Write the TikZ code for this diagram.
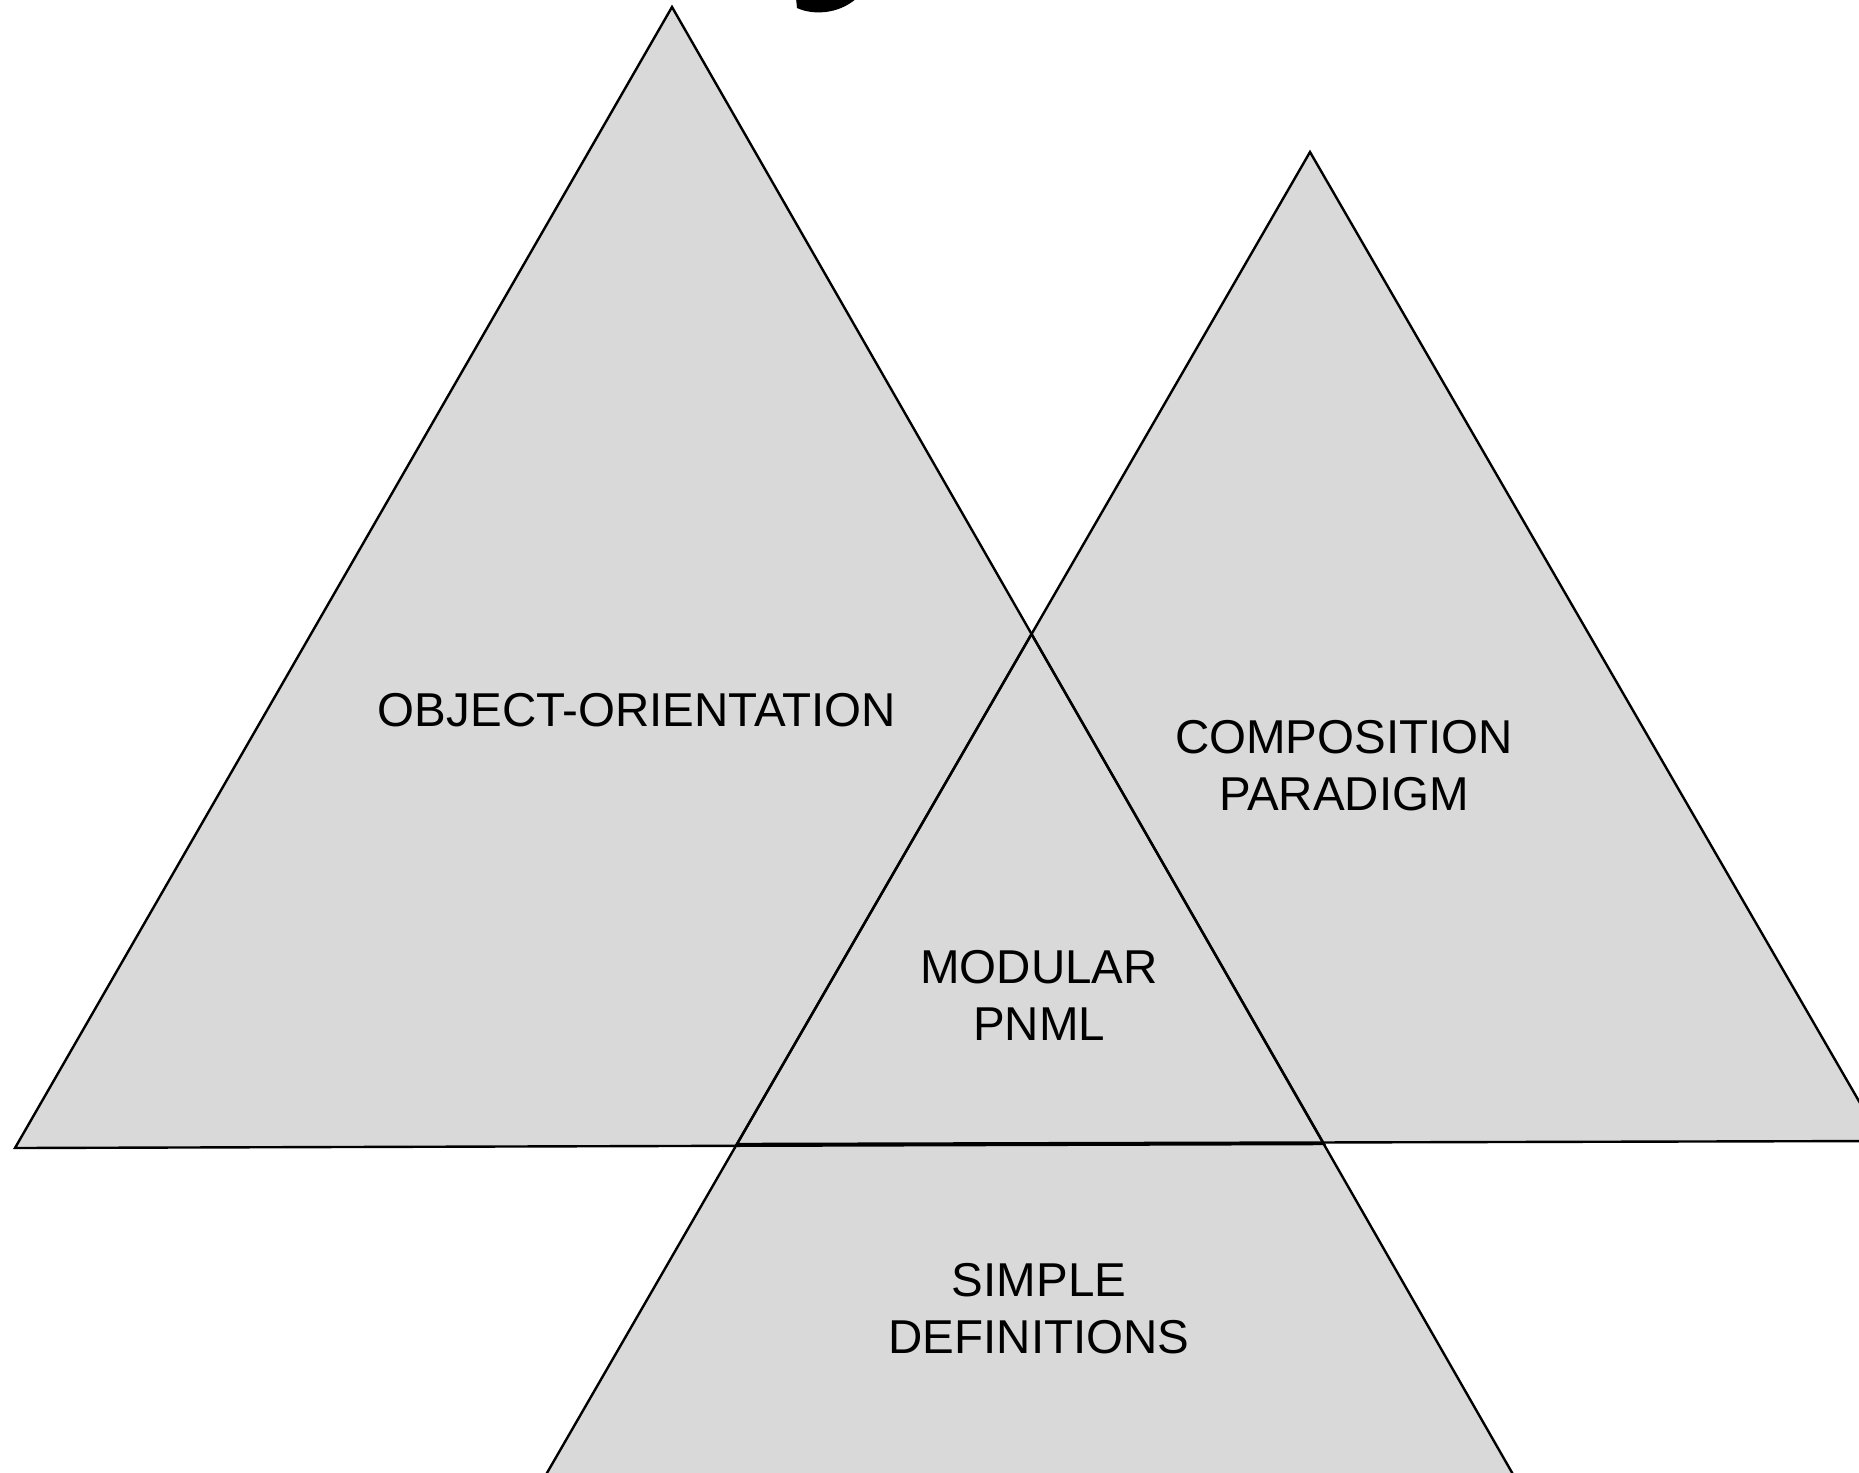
\documentclass[tikz,border=0pt]{standalone}
\usepackage{fontspec}
\setmainfont{Liberation Sans}
\definecolor{trigray}{HTML}{D9D9D9}
\tikzset{
  trifill/.style={fill=trigray},
  triline/.style={draw=black, line width=2.4pt, line join=miter},
  label/.style={font=\fontsize{47.5}{57}\selectfont, align=center, inner sep=0pt, text=black},
}
\begin{document}
\begin{tikzpicture}[x=1pt, y=-1pt]
\useasboundingbox (0,0) rectangle (1859,1472);
\clip (0,0) rectangle (1859,1472);
\fill[white] (0,0) rectangle (1859,1472);
% vertices
\coordinate (LA) at (672,7);
\coordinate (LL) at (15,1148);
\coordinate (LR) at (1324,1144);
\coordinate (RA) at (1310,152);
\coordinate (RL) at (737,1144);
\coordinate (RR) at (1882,1141);
\coordinate (BA) at (1031.5,634);
\coordinate (BL) at (473.6,1600);
\coordinate (BR) at (1585,1600);
% fills
\fill[trifill] (LA) -- (LL) -- (LR) -- cycle;
\fill[trifill] (RA) -- (RL) -- (RR) -- cycle;
\fill[trifill] (BA) -- (BL) -- (BR) -- cycle;
% outlines
\draw[triline] (LA) -- (LL) -- (LR) -- cycle;
\draw[triline] (RA) -- (RL) -- (RR) -- cycle;
\draw[triline] (BA) -- (BL) -- (BR) -- cycle;
% fragment of title glyph at top
\fill[black] (796,-2) -- (797,8) .. controls (812,15) and (838,15) .. (857,-2) -- cycle;
% labels
\node[label] (oo) at (637,710) {OBJECT-ORIENTATION};
\node[label] (cp) at (1344,766) {COMPOSITION\\PARADIGM};
\node[label] (mp) at (1039,995) {MODULAR\\PNML};
\node[label] (sd) at (1039,1309) {SIMPLE\\DEFINITIONS};
\end{tikzpicture}
\end{document}
